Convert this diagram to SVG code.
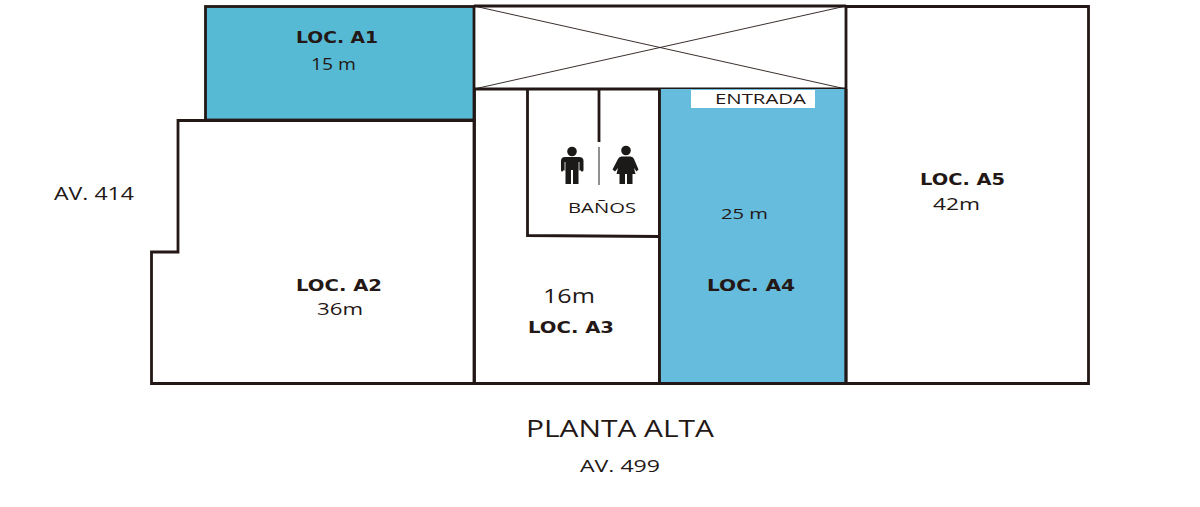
<svg xmlns="http://www.w3.org/2000/svg" width="1200" height="507" viewBox="0 0 1200 507">
<style>
.w{fill:none;stroke:#231815;stroke-width:2.800}
.x{fill:none;stroke:#231815;stroke-width:.9}
text{fill:#231815;font-family:"Open Sans","DejaVu Sans",sans-serif}
.b{font-family:"DejaVu Sans",sans-serif;font-weight:700;font-size:15px}
.t{font-size:16px;font-weight:500}
.i{fill:#1c1a18}
.g{fill:none;stroke:#fff;stroke-width:.8}
</style>
<rect width="1200" height="507" fill="#fff"/>
<g id="connectors">
<path class="x" d="M474 6L846 89M846 6L474 89"/>
<path class="w" d="M474 6H846M474 89H846"/>
</g>
<g id="loc-a1">
<rect class="w" x="205.500" y="6.500" width="268.500" height="113.500" style="fill:#57bad5"/>
<text class="b" x="296" y="43" textLength="82" lengthAdjust="spacingAndGlyphs">LOC. A1</text>
<text class="t" x="311" y="70" textLength="45" lengthAdjust="spacingAndGlyphs">15 m</text>
</g>
<g id="loc-a2">
<path class="w" d="M178 120.500H474V383.500H151.500V252H178Z"/>
<text class="b" x="296" y="291" textLength="86" lengthAdjust="spacingAndGlyphs">LOC. A2</text>
<text class="t" x="317" y="315" textLength="46" lengthAdjust="spacingAndGlyphs">36m</text>
</g>
<g id="loc-a3">
<path class="w" d="M474.500 89V383.500H659.500V89"/>
<text x="543" y="303" font-size="20" textLength="52" lengthAdjust="spacingAndGlyphs">16m</text>
<text class="b" x="528" y="333" textLength="86" lengthAdjust="spacingAndGlyphs">LOC. A3</text>
</g>
<g id="banos">
<path class="w" d="M527.500 89V235.500L659.500 236.500"/>
<path class="w" d="M599 89V142"/>
<path d="M599 147V185" fill="none" stroke="#6b6b6b" stroke-width="1.500"/>
<g class="i">
<circle cx="572" cy="151.500" r="4.800"/>
<path d="M565 157H579Q583.500 157 583.500 161V170Q583.500 171.500 582 171.500Q580.500 171.500 580.500 170L578.500 171V184H573V170H571V184H565.500V171L563.500 170Q563.500 171.500 562 171.500Q561 171.500 561 170V161Q561 157 565 157Z"/>
</g>
<path class="g" d="M565 162V171M579 162V171"/>
<g class="i">
<circle cx="626" cy="150.500" r="4.800"/>
<path d="M621.500 156.500H630.500Q633 156.500 634 159L638.500 169.500L636.500 171.500L634 168L635.500 174H632.500V184H627V174H625V184H619.500V174H616.500L618 168L615 171.500L612.500 169.500L618 159Q619 156.500 621.500 156.500Z"/>
</g>
<text x="568" y="213" font-size="15" textLength="68" lengthAdjust="spacingAndGlyphs">BAÑOS</text>
</g>
<g id="loc-a4">
<rect x="660" y="89" width="186" height="294" fill="#65bcdd"/>
<path class="w" d="M659.500 89V383.500H846V89"/>
<rect x="691" y="90" width="124" height="18" fill="#fff"/>
<text x="715" y="104" font-size="15" textLength="91" lengthAdjust="spacingAndGlyphs">ENTRADA</text>
<text class="t" x="721" y="219" style="font-size:15px" textLength="47" lengthAdjust="spacingAndGlyphs">25 m</text>
<text class="b" x="707" y="291" textLength="88" lengthAdjust="spacingAndGlyphs">LOC. A4</text>
</g>
<g id="loc-a5">
<path class="w" d="M846 6.500H1088.500V383.500H846Z"/>
<text class="b" x="920" y="185" textLength="85" lengthAdjust="spacingAndGlyphs">LOC. A5</text>
<text class="t" x="933" y="210" textLength="47" lengthAdjust="spacingAndGlyphs">42m</text>
</g>
<g id="labels">
<text x="54" y="200" font-size="18" textLength="80" lengthAdjust="spacingAndGlyphs">AV. 414</text>
<text x="526" y="437" font-size="23" textLength="188" lengthAdjust="spacingAndGlyphs">PLANTA ALTA</text>
<text x="580" y="472" font-size="17" textLength="80" lengthAdjust="spacingAndGlyphs">AV. 499</text>
</g>
</svg>
